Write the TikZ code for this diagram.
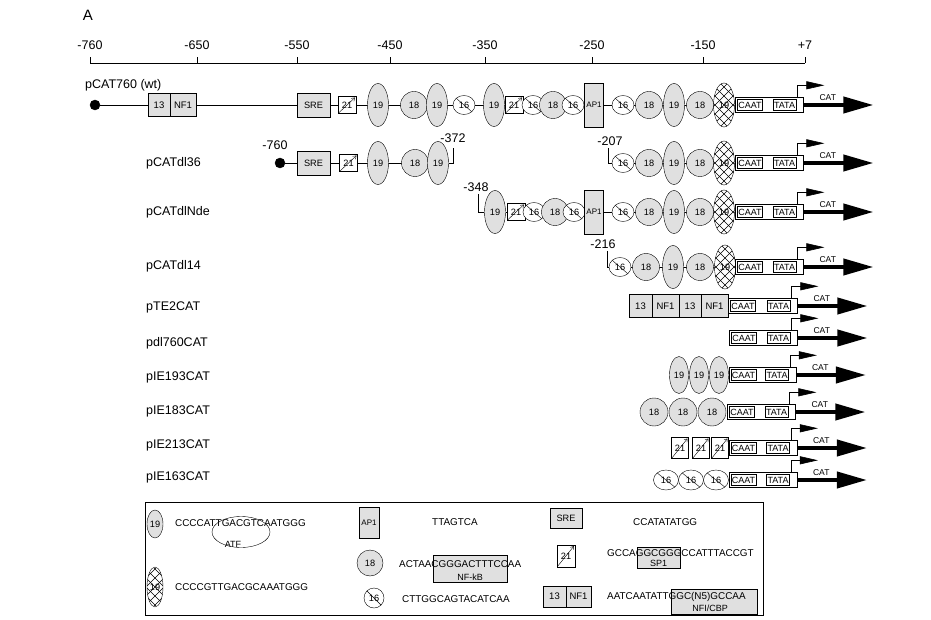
\documentclass[tikz,border=0pt]{standalone}
\usepackage{fontspec}
\setmainfont{Liberation Sans}
\usetikzlibrary{shapes.geometric,arrows.meta}
\pgfdeclarelayer{bg}
\pgfdeclarelayer{lines}
\pgfsetlayers{bg,lines,main}
\definecolor{dotc}{gray}{0.88}
\newcommand\myfs[1]{\fontsize{#1}{#1}\selectfont}
\tikzset{
 el/.style={draw, inner sep=0pt, font=\myfs{9.2}},
 e19/.style={el, ellipse, fill=dotc, minimum width=21pt, minimum height=43pt},
 e19x/.style={el, ellipse, fill=white, minimum width=21pt, minimum height=44pt,
   path picture={\foreach \k in {-36,-27,...,36}{
     \draw[line width=0.5pt] ([xshift=\k pt]path picture bounding box.center) +(-30pt,-30pt) -- +(30pt,30pt);
     \draw[line width=0.5pt] ([xshift=\k pt]path picture bounding box.center) +(-30pt,30pt) -- +(30pt,-30pt);}}},
 e16/.style={el, ellipse, fill=white, minimum width=22pt, minimum height=19pt,
   path picture={\draw (path picture bounding box.north west) -- (path picture bounding box.south east);}},
 b21/.style={el, rectangle, fill=white, minimum width=18pt, minimum height=17pt,
   path picture={\draw[-{Straight Barb[length=3pt,width=4pt]}] (path picture bounding box.south west) -- ([shift={(-1pt,-1pt)}]path picture bounding box.north east);}},
 c18/.style={el, circle, fill=dotc, minimum size=27pt},
 sre/.style={el, rectangle, fill=dotc, minimum width=33pt, minimum height=24pt},
 ap1/.style={el, rectangle, fill=dotc, minimum width=19pt, minimum height=44pt, font=\myfs{8}},
 nfb/.style={el, rectangle, fill=dotc, minimum height=23pt, font=\myfs{9.5}},
 startdot/.style={circle, fill=black, draw, minimum size=10pt, inner sep=0pt},
 caatbox/.style={draw, rectangle, fill=white, minimum height=15pt, inner sep=0pt},
 inb/.style={draw, rectangle, fill=white, inner sep=1pt, minimum height=11pt, font=\myfs{9}, line width=0.8pt},
 prom/.style={line width=0.6pt, -{Triangle[length=18pt,width=8pt]}},
 catarrow/.style={line width=4pt, -{Triangle[length=30pt,width=16pt]}},
 catl/.style={font=\myfs{8.5}, inner sep=0pt},
 lab/.style={font=\myfs{12.5}, inner sep=0pt},
 seq/.style={font=\myfs{9.9}, inner sep=0pt},
 tag/.style={font=\myfs{9}, inner sep=0pt},
 backbone/.style={line width=0.6pt},
}
\newcommand\promunit[4]{%
  \node[caatbox, minimum width=#4pt, anchor=west] (#1) at (#2,#3) {};
  \node[inb, anchor=west] (#1c) at ([xshift=2pt]#1.west) {CAAT};
  \node[inb, anchor=east] (#1t) at ([xshift=-7pt]#1.east) {TATA};
  \coordinate (#1p) at ([xshift=-6pt]#1.north east);
  \coordinate (#1q) at ([shift={(21pt,12pt)}]#1.north east);
  \coordinate (#1r) at ([xshift=70pt]#1.east);
  \draw[prom] (#1p) |- (#1q);
  \draw[catarrow] (#1.east) -- (#1r);
  \node[catl, anchor=west] (#1l) at ([shift={(16pt,7pt)}]#1.east) {CAT};
}
\begin{document}
\begin{tikzpicture}[x=1pt,y=-1pt,line width=0.6pt]
\useasboundingbox (0,0) rectangle (931,620);
\begin{pgfonlayer}{bg}
\fill[white] (0,0) rectangle (931,620);
\end{pgfonlayer}

% panel letter
\node[font=\myfs{15}, inner sep=0pt] (pA) at (88,15) {A};

% axis
\coordinate (axL) at (90,63);
\coordinate (axR) at (805,63);
\draw (axL) -- (axR);
\foreach \x/\t [count=\i] in {90/-760,197/-650,297/-550,390/-450,485/-350,592/-250,703/-150,805/+7}{
  \draw (\x,63) -- (\x,57);
  \node[lab] (ax\i) at (\x,45) {\t};
}

% ---------- row 1 : pCAT760 (wt)
\node[lab, anchor=west] (l1) at (85,85) {pCAT760 (wt)};
\node[startdot] (r1dot) at (95,105) {};
\node[nfb, minimum width=22pt] (r1n13) at (159,105) {13};
\node[nfb, minimum width=26pt] (r1nf) at (183,105) {NF1};
\node[sre] (r1sre) at (313.5,105) {SRE};
\node[b21] (r1b21a) at (347,105) {21};
\node[e19] (r1e19a) at (378,105) {19};
\node[c18] (r1c18a) at (414,105) {18};
\node[e19] (r1e19b) at (437,105) {19};
\node[e16] (r1e16a) at (464,105) {16};
\node[e19] (r1e19c) at (494,105) {19};
\node[b21] (r1b21b) at (514,105) {21};
\node[e16] (r1e16b) at (533,105) {16};
\node[c18] (r1c18b) at (553,105) {18};
\node[e16] (r1e16c) at (573,105) {16};
\node[ap1] (r1ap1) at (594,105) {AP1};
\node[e16] (r1e16d) at (623,105) {16};
\node[c18] (r1c18c) at (649,105) {18};
\node[e19] (r1e19d) at (674,105) {19};
\node[c18] (r1c18d) at (700,105) {18};
\node[e19x] (r1e19x) at (724,105) {19};
\promunit{r1box}{735}{105}{68}
\begin{pgfonlayer}{lines}
\draw[backbone] (r1dot) -- (r1box);
\end{pgfonlayer}

% ---------- row 2 : pCATdl36
\node[lab, anchor=west] (l2) at (146,163) {pCATdl36};
\node[lab] (r2m760) at (275,145) {-760};
\node[startdot] (r2dot) at (280,163) {};
\node[sre] (r2sre) at (313.5,163) {SRE};
\node[b21] (r2b21) at (348.5,163) {21};
\node[e19] (r2e19a) at (378,163) {19};
\node[c18] (r2c18) at (415,163) {18};
\node[e19] (r2e19b) at (438,163) {19};
\coordinate (r2k1) at (453,148);
\node[lab] (r2m372) at (453,138) {-372};
\draw (r2e19b.east) -| (r2k1);
\node[lab] (r2m207) at (610,141) {-207};
\coordinate (r2k2) at (608,148);
\node[e16] (r2e16) at (623,163) {16};
\node[c18] (r2c18b) at (649,163) {18};
\node[e19] (r2e19c) at (674,163) {19};
\node[c18] (r2c18c) at (700,163) {18};
\node[e19x] (r2e19x) at (724,163) {19};
\promunit{r2box}{735}{163}{68}
\draw (r2k2) |- (r2e16.west);
\begin{pgfonlayer}{lines}
\draw[backbone] (r2dot) -- (r2e19b);
\draw[backbone] (r2e16) -- (r2box);
\end{pgfonlayer}

% ---------- row 3 : pCATdlNde
\node[lab, anchor=west] (l3) at (146,212) {pCATdlNde};
\node[lab] (r3m348) at (476,187) {-348};
\coordinate (r3k) at (478,194);
\node[e19] (r3e19a) at (495,212) {19};
\node[b21] (r3b21) at (516,212) {21};
\node[e16] (r3e16a) at (534,212) {16};
\node[c18] (r3c18a) at (555,212) {18};
\node[e16] (r3e16b) at (574,212) {16};
\node[ap1] (r3ap1) at (594,212) {AP1};
\node[e16] (r3e16c) at (623,212) {16};
\node[c18] (r3c18b) at (649,212) {18};
\node[e19] (r3e19b) at (674,212) {19};
\node[c18] (r3c18c) at (700,212) {18};
\node[e19x] (r3e19x) at (724,212) {19};
\promunit{r3box}{735}{212}{68}
\begin{pgfonlayer}{lines}
\draw (r3k) |- (r3e19a.west);
\draw[backbone] (r3e19a) -- (r3box);
\end{pgfonlayer}

% ---------- row 4 : pCATdl14
\node[lab, anchor=west] (l4) at (146,266) {pCATdl14};
\node[lab] (r4m216) at (603,244) {-216};
\coordinate (r4k) at (607,251);
\node[e16] (r4e16) at (620,267) {16};
\node[c18] (r4c18a) at (646,267) {18};
\node[e19] (r4e19) at (673,267) {19};
\node[c18] (r4c18b) at (700,267) {18};
\node[e19x] (r4e19x) at (725,267) {19};
\promunit{r4box}{735}{267}{68}
\begin{pgfonlayer}{lines}
\draw (r4k) |- (r4e16.west);
\draw[backbone] (r4e16) -- (r4box);
\end{pgfonlayer}

% ---------- row 5 : pTE2CAT
\node[lab, anchor=west] (l5) at (146,307) {pTE2CAT};
\node[nfb, minimum width=23pt] (r5a) at (640.5,306) {13};
\node[nfb, minimum width=27pt] (r5b) at (665.5,306) {NF1};
\node[nfb, minimum width=22pt] (r5c) at (690,306) {13};
\node[nfb, minimum width=27pt] (r5d) at (714.5,306) {NF1};
\promunit{r5box}{728}{306}{69}

% ---------- row 6 : pdl760CAT
\node[lab, anchor=west] (l6) at (146,343) {pdl760CAT};
\promunit{r6box}{729}{338}{68}

% ---------- row 7 : pIE193CAT
\node[lab, anchor=west] (l7) at (146,377) {pIE193CAT};
\node[e19, minimum width=19pt, minimum height=37pt] (r7a) at (679,375) {19};
\node[e19, minimum width=19pt, minimum height=37pt] (r7b) at (699,375) {19};
\node[e19, minimum width=19pt, minimum height=37pt] (r7c) at (719,375) {19};
\promunit{r7box}{728.5}{375}{67}

% ---------- row 8 : pIE183CAT
\node[lab, anchor=west] (l8) at (146,411) {pIE183CAT};
\node[c18, minimum size=28pt] (r8a) at (654,412) {18};
\node[c18, minimum size=28pt] (r8b) at (683,412) {18};
\node[c18, minimum size=28pt] (r8c) at (712,412) {18};
\promunit{r8box}{727}{412}{68}

% ---------- row 9 : pIE213CAT
\node[lab, anchor=west] (l9) at (146,445) {pIE213CAT};
\node[b21, minimum width=17pt, minimum height=21pt] (r9a) at (680,448) {21};
\node[b21, minimum width=17pt, minimum height=21pt] (r9b) at (701,448) {21};
\node[b21, minimum width=17pt, minimum height=21pt] (r9c) at (720,448) {21};
\promunit{r9box}{728.5}{448}{68}

% ---------- row 10 : pIE163CAT
\node[lab, anchor=west] (l10) at (146,477) {pIE163CAT};
\node[e16, minimum width=25pt, minimum height=20pt] (r10a) at (666,480) {16};
\node[e16, minimum width=25pt, minimum height=20pt] (r10b) at (691,480) {16};
\node[e16, minimum width=25pt, minimum height=20pt] (r10c) at (716,480) {16};
\promunit{r10box}{728.5}{480}{68}

% ---------- legend
\node[draw, minimum width=618pt, minimum height=113pt, inner sep=0pt] (leg) at (454,558.5) {};
\node[e19, minimum width=16pt, minimum height=28pt] (lg19) at (155,524) {19};
\node[seq, anchor=west] (lg19t) at (175,523) {CCCCATTGACGTCAATGGG};
\node[draw, ellipse, minimum width=58pt, minimum height=31pt, inner sep=0pt] (lgatf) at (241,532) {};
\node[tag] (lgatft) at (233,544.5) {ATF};
\node[e19x, minimum width=16pt, minimum height=40pt] (lg19x) at (155,587) {19};
\node[seq, anchor=west] (lg19xt) at (175,587) {CCCCGTTGACGCAAATGGG};

\node[ap1, minimum width=20pt, minimum height=31pt] (lgap1) at (369,522.5) {AP1};
\node[seq, anchor=west] (lgap1t) at (432,522) {TTAGTCA};
\node[c18, minimum size=26pt] (lg18) at (370,563) {18};
\node[draw, fill=dotc, minimum width=74pt, minimum height=27pt, inner sep=0pt] (lgnfkb) at (470,568.5) {};
\node[seq, anchor=west] (lg18t) at (399,564) {ACTAACGGGACTTTCCAA};
\node[tag] (lgnfkbt) at (470,577.5) {NF-kB};
\node[e16, minimum width=20pt, minimum height=20pt] (lg16) at (374,598) {16};
\node[seq, anchor=west] (lg16t) at (402,599) {CTTGGCAGTACATCAA};

\node[sre, minimum width=32pt, minimum height=20pt] (lgsre) at (566,518) {SRE};
\node[seq, anchor=west] (lgsret) at (633,522) {CCATATATGG};
\node[b21, minimum width=18pt, minimum height=22pt] (lg21) at (566,556) {21};
\node[draw, fill=dotc, minimum width=43pt, minimum height=21pt, inner sep=0pt] (lgsp1) at (658.5,557.5) {};
\node[seq, anchor=west] (lg21t) at (607,553) {GCCAGGCGGGCCATTTACCGT};
\node[tag] (lgsp1t) at (658.5,563.5) {SP1};
\node[nfb, minimum width=23pt, minimum height=21pt] (lg13) at (554.5,596.5) {13};
\node[nfb, minimum width=25pt, minimum height=21pt] (lgnf1) at (578.5,596.5) {NF1};
\node[draw, fill=dotc, minimum width=86pt, minimum height=25pt, inner sep=0pt] (lgcbp) at (714,601.5) {};
\node[seq, anchor=west] (lgnft) at (607,597) {AATCAATATTGGC(N5)GCCAA};
\node[tag] (lgcbpt) at (710,608.5) {NFI/CBP};
\end{tikzpicture}
\end{document}
